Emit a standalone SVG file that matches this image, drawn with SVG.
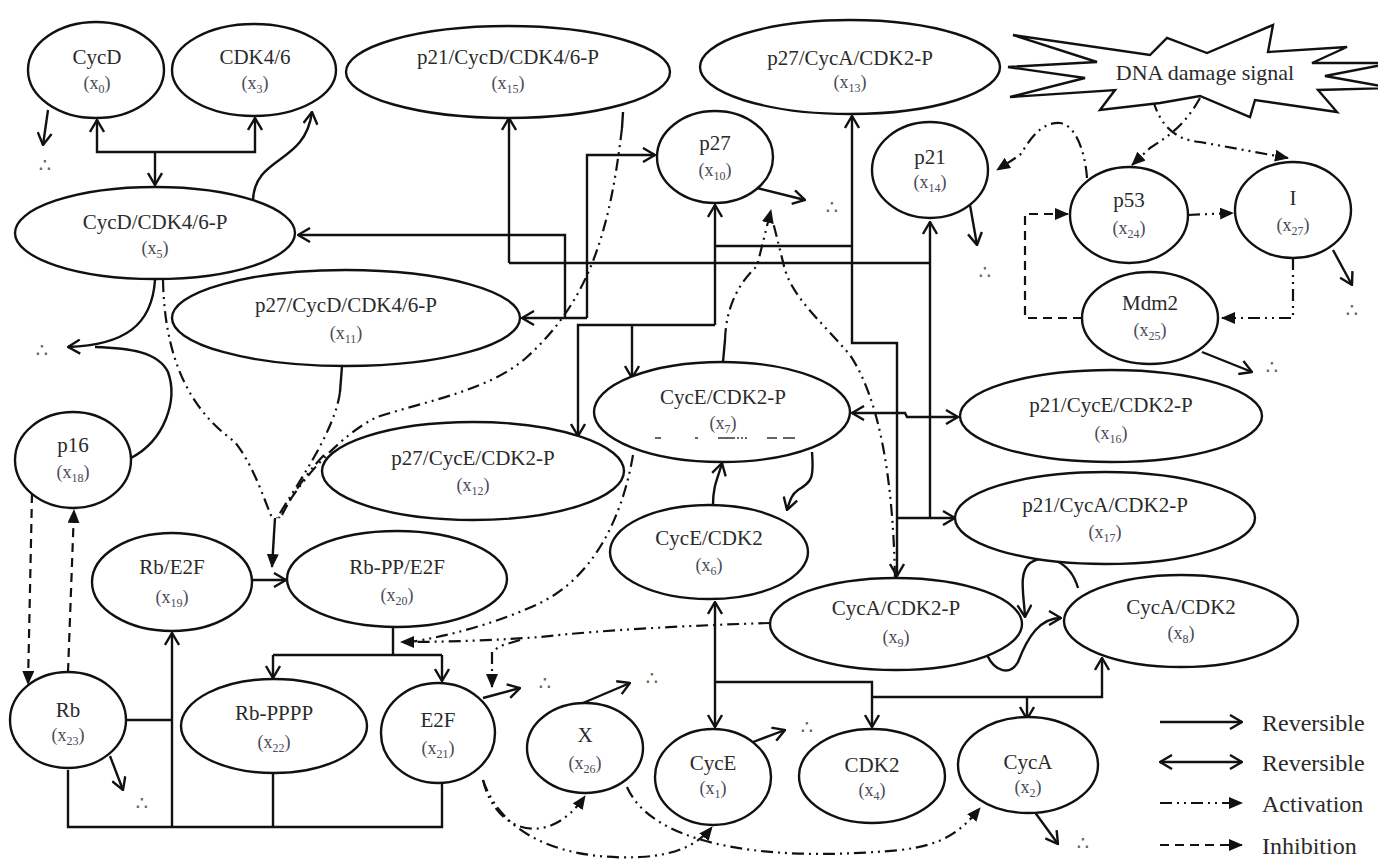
<svg xmlns="http://www.w3.org/2000/svg" width="1378" height="866" viewBox="0 0 1378 866">
<defs>
<style>
.e{fill:#fff;stroke:#111;stroke-width:2.4}
.nm{font-family:'Liberation Serif','Times New Roman',Times,'DejaVu Serif',serif;font-size:21px;fill:#2a2a2a;text-anchor:middle}
.lb{font-family:'Liberation Serif','Times New Roman',Times,'DejaVu Serif',serif;font-size:18px;fill:#4a4a58;text-anchor:middle}
.sb{font-size:12px}
.s{fill:none;stroke:#111;stroke-width:2.4}
.ad{fill:none;stroke:#111;stroke-width:2.2;stroke-dasharray:12 5 2 5 2 5}
.ih{fill:none;stroke:#111;stroke-width:2.2;stroke-dasharray:9 6}
.dg{font-family:'DejaVu Sans',sans-serif;font-size:20px;fill:#665;text-anchor:middle}
.lg{font-family:'Liberation Serif','Times New Roman',Times,'DejaVu Serif',serif;font-size:24px;fill:#2a2a2a}
</style>
<marker id="o" viewBox="0 0 14 16" refX="13" refY="8" markerWidth="14" markerHeight="16" markerUnits="userSpaceOnUse" orient="auto-start-reverse"><path d="M1,1 L13,8 L1,15" fill="none" stroke="#111" stroke-width="2.4" stroke-dasharray="none"/></marker>
<marker id="t" viewBox="0 0 14 12" refX="13" refY="6" markerWidth="14" markerHeight="12" markerUnits="userSpaceOnUse" orient="auto"><path d="M0,0 L14,6 L0,12 z" fill="#111" stroke="none"/></marker>
</defs>
<rect width="1378" height="866" fill="#fff"/>

<g id="connectors">
<path class="s" d="M48,110 L43,145" marker-end="url(#o)"/>
<path class="s" d="M97,120 L97,152 L255,152 L255,118" marker-start="url(#o)" marker-end="url(#o)"/>
<path class="s" d="M155,152 L155,185" marker-end="url(#o)"/>
<path class="s" d="M253,200 C255,155 305,165 312,112" marker-end="url(#o)"/>
<path class="s" d="M155,280 C152,325 125,345 68,347" marker-end="url(#o)"/>
<path class="s" d="M131,458 C165,440 178,400 168,372 C158,352 130,348 95,347"/>
<path class="s" d="M587,318 L522,318" marker-end="url(#o)"/>
<path class="s" d="M565,318 L565,235 L298,235" marker-end="url(#o)"/>
<path class="s" d="M587,318 L587,155 L655,155" marker-end="url(#o)"/>
<path class="s" d="M509,263 L509,118" marker-end="url(#o)"/>
<path class="s" d="M509,263 L930,263"/>
<path class="s" d="M930,518 L930,222" marker-end="url(#o)"/>
<path class="s" d="M852,413 L905,413 L907,417 L958,417" marker-start="url(#o)" marker-end="url(#o)"/>
<path class="s" d="M897,518 L955,518" marker-end="url(#o)"/>
<path class="s" d="M715,325 L715,205" marker-end="url(#o)"/>
<path class="s" d="M715,246 L852,246"/>
<path class="s" d="M852,116 L852,343 L897,343 L897,576" marker-start="url(#o)" marker-end="url(#o)"/>
<path class="s" d="M715,325 L578,325 L578,436" marker-end="url(#o)"/>
<path class="s" d="M632,325 L632,378" marker-end="url(#o)"/>
<path class="s" d="M713,505 C713,485 718,478 722,463" marker-end="url(#o)"/>
<path class="s" d="M812,452 C814,478 812,482 798,490 C792,494 790,500 787,510" marker-end="url(#o)"/>
<path class="s" d="M715,602 L715,727" marker-start="url(#o)" marker-end="url(#o)"/>
<path class="s" d="M715,682 L872,682 L872,727" marker-end="url(#o)"/>
<path class="s" d="M872,697 L1102,697 L1102,658" marker-end="url(#o)"/>
<path class="s" d="M1027,697 L1027,719" marker-end="url(#o)"/>
<path class="s" d="M1078,588 C1070,560 1045,553 1030,563 C1018,573 1024,595 1025,617" marker-end="url(#o)"/>
<path class="s" d="M987,655 C995,672 1010,676 1018,662 C1028,636 1040,618 1061,618" marker-end="url(#o)"/>
<path class="s" d="M252,580 L286,580" marker-end="url(#o)"/>
<path class="s" d="M393,627 L393,655"/>
<path class="s" d="M273,655 L442,655"/>
<path class="s" d="M273,655 L273,678" marker-end="url(#o)"/>
<path class="s" d="M442,655 L442,681" marker-end="url(#o)"/>
<path class="s" d="M68,770 L68,827 L442,827 L442,783"/>
<path class="s" d="M172,827 L172,633" marker-end="url(#o)"/>
<path class="s" d="M127,720 L172,720"/>
<path class="s" d="M273,773 L273,827"/>
<path class="s" d="M110,756 L123,790" marker-end="url(#o)"/>
<path class="s" d="M483,698 L520,688" marker-end="url(#o)"/>
<path class="s" d="M583,703 L630,683" marker-end="url(#o)"/>
<path class="s" d="M753,742 L785,730" marker-end="url(#o)"/>
<path class="s" d="M1034,811 L1058,844" marker-end="url(#o)"/>
<path class="s" d="M757,188 L805,200" marker-end="url(#o)"/>
<path class="s" d="M970,205 L977,245" marker-end="url(#o)"/>
<path class="s" d="M1333,250 L1352,285" marker-end="url(#o)"/>
<path class="s" d="M1202,352 L1252,372" marker-end="url(#o)"/>
<path class="ad" d="M163,280 C165,380 205,420 235,442 C255,468 264,500 273,520"/>
<path class="s" d="M342,366 L340,392"/>
<path class="ad" d="M340,392 C335,430 300,480 277,518"/>
<path class="s" d="M623,112 L622,128"/>
<path class="ad" d="M622,128 C610,230 590,300 527,357 C490,390 430,400 377,417 C340,435 300,480 279,518"/>
<path class="ad" d="M324,455 C305,475 292,495 282,515"/>
<path class="s" d="M275,518 L272,567" marker-end="url(#t)"/>
<path class="ad" d="M770,623 C700,625 600,630 540,637 C500,640 450,642 401,642" marker-end="url(#t)"/>
<path class="ad" d="M633,455 C622,520 592,578 540,603 C500,622 450,636 410,642"/>
<path class="ad" d="M520,640 L500,646 L492,652 L492,687" marker-end="url(#t)"/>
<path class="s" d="M723,362 L725,340"/>
<path class="ad" d="M725,340 C726,305 740,282 757,266 L771,210" marker-end="url(#t)"/>
<path class="ad" d="M895,578 C893,480 880,400 850,355 C820,320 795,300 785,270 L773,222"/>
<path class="ad" d="M483,780 C495,832 548,850 585,796" marker-end="url(#t)"/>
<path class="ad" d="M483,780 C505,845 580,860 640,857 C680,855 700,842 712,827" marker-end="url(#t)"/>
<path class="ad" d="M627,787 C650,840 750,864 900,850 C945,845 962,830 980,808" marker-end="url(#t)"/>
<path class="ad" d="M1087,178 C1085,150 1075,125 1060,123 C1040,122 1030,140 1020,155 L997,170" marker-end="url(#t)"/>
<path class="ad" d="M1200,98 C1185,125 1170,135 1150,148 L1132,165" marker-end="url(#t)"/>
<path class="ad" d="M1153,100 C1160,125 1175,140 1200,142 L1288,158" marker-end="url(#t)"/>
<path class="ad" d="M1188,215 L1233,213" marker-end="url(#t)"/>
<path class="ad" d="M1293,258 L1293,318 L1222,318" marker-end="url(#t)"/>
<path class="ih" d="M1082,318 L1025,318 L1025,214 L1068,214" marker-end="url(#t)"/>
<path class="ih" d="M32,494 L28,684" marker-end="url(#t)"/>
<path class="ih" d="M68,672 L74,510" marker-end="url(#t)"/>
</g>

<g id="sinks">
<text class="dg" x="45" y="172">∴</text>
<text class="dg" x="42" y="357">∴</text>
<text class="dg" x="832" y="214">∴</text>
<text class="dg" x="985" y="279">∴</text>
<text class="dg" x="1352" y="317">∴</text>
<text class="dg" x="1272" y="374">∴</text>
<text class="dg" x="142" y="810">∴</text>
<text class="dg" x="545" y="690">∴</text>
<text class="dg" x="652" y="685">∴</text>
<text class="dg" x="807" y="734">∴</text>
<text class="dg" x="1083" y="850">∴</text>
</g>

<g id="dna">
<polygon class="e" points="1013,35 1150,55 1167,38 1207,53 1273,25 1268,52 1347,47 1312,63 1392,63 1325,76 1392,88 1318,90 1337,112 1255,100 1250,117 1200,96 1160,103 1100,110 1115,90 1010,97 1085,78 1008,67 1097,62"/>
<text class="nm" x="1205" y="80" style="font-size:22px">DNA damage signal</text>
</g>

<g id="n0"><ellipse class="e" cx="96" cy="70" rx="68" ry="48"/><text class="nm" x="97" y="64">CycD</text><text class="lb" x="97" y="89">(x<tspan class="sb" dy="4">0</tspan><tspan dy="-4">)</tspan></text></g>
<g id="n3"><ellipse class="e" cx="254" cy="70" rx="82" ry="46"/><text class="nm" x="255" y="64">CDK4/6</text><text class="lb" x="255" y="89">(x<tspan class="sb" dy="4">3</tspan><tspan dy="-4">)</tspan></text></g>
<g id="n15"><ellipse class="e" cx="508" cy="72" rx="162" ry="46"/><text class="nm" x="508" y="64">p21/CycD/CDK4/6-P</text><text class="lb" x="508" y="89">(x<tspan class="sb" dy="4">15</tspan><tspan dy="-4">)</tspan></text></g>
<g id="n13"><ellipse class="e" cx="850" cy="67" rx="150" ry="47"/><text class="nm" x="850" y="65">p27/CycA/CDK2-P</text><text class="lb" x="850" y="88">(x<tspan class="sb" dy="4">13</tspan><tspan dy="-4">)</tspan></text></g>
<g id="n5"><ellipse class="e" cx="155" cy="233" rx="140" ry="46"/><text class="nm" x="155" y="229">CycD/CDK4/6-P</text><text class="lb" x="155" y="254">(x<tspan class="sb" dy="4">5</tspan><tspan dy="-4">)</tspan></text></g>
<g id="n10"><ellipse class="e" cx="715" cy="157" rx="58" ry="46"/><text class="nm" x="715" y="150">p27</text><text class="lb" x="715" y="176">(x<tspan class="sb" dy="4">10</tspan><tspan dy="-4">)</tspan></text></g>
<g id="n14"><ellipse class="e" cx="930" cy="170" rx="58" ry="48"/><text class="nm" x="930" y="164">p21</text><text class="lb" x="930" y="188">(x<tspan class="sb" dy="4">14</tspan><tspan dy="-4">)</tspan></text></g>
<g id="n24"><ellipse class="e" cx="1129" cy="215" rx="59" ry="48"/><text class="nm" x="1129" y="207">p53</text><text class="lb" x="1129" y="234">(x<tspan class="sb" dy="4">24</tspan><tspan dy="-4">)</tspan></text></g>
<g id="n27"><ellipse class="e" cx="1293" cy="210" rx="58" ry="48"/><text class="nm" x="1293" y="205">I</text><text class="lb" x="1293" y="231">(x<tspan class="sb" dy="4">27</tspan><tspan dy="-4">)</tspan></text></g>
<g id="n25"><ellipse class="e" cx="1150" cy="318" rx="68" ry="46"/><text class="nm" x="1150" y="310">Mdm2</text><text class="lb" x="1150" y="336">(x<tspan class="sb" dy="4">25</tspan><tspan dy="-4">)</tspan></text></g>
<g id="n11"><ellipse class="e" cx="346" cy="318" rx="174" ry="48"/><text class="nm" x="346" y="312">p27/CycD/CDK4/6-P</text><text class="lb" x="346" y="339">(x<tspan class="sb" dy="4">11</tspan><tspan dy="-4">)</tspan></text></g>
<g id="n7"><ellipse class="e" cx="722" cy="412" rx="128" ry="50"/><text class="nm" x="723" y="404">CycE/CDK2-P</text><text class="lb" x="723" y="429">(x<tspan class="sb" dy="4">7</tspan><tspan dy="-4">)</tspan></text><path d="M655,438 L795,438" fill="none" stroke="#333" stroke-width="1.6" stroke-dasharray="6 34 3 20 17 2 2 2 2 2 2 20 10"/></g>
<g id="n12"><ellipse class="e" cx="473" cy="471" rx="151" ry="49"/><text class="nm" x="473" y="465">p27/CycE/CDK2-P</text><text class="lb" x="473" y="491">(x<tspan class="sb" dy="4">12</tspan><tspan dy="-4">)</tspan></text></g>
<g id="n16"><ellipse class="e" cx="1111" cy="416" rx="151" ry="46"/><text class="nm" x="1111" y="412">p21/CycE/CDK2-P</text><text class="lb" x="1111" y="439">(x<tspan class="sb" dy="4">16</tspan><tspan dy="-4">)</tspan></text></g>
<g id="n17"><ellipse class="e" cx="1105" cy="518" rx="150" ry="46"/><text class="nm" x="1105" y="512">p21/CycA/CDK2-P</text><text class="lb" x="1105" y="538">(x<tspan class="sb" dy="4">17</tspan><tspan dy="-4">)</tspan></text></g>
<g id="n18"><ellipse class="e" cx="73" cy="460" rx="58" ry="48"/><text class="nm" x="73" y="452">p16</text><text class="lb" x="73" y="478">(x<tspan class="sb" dy="4">18</tspan><tspan dy="-4">)</tspan></text></g>
<g id="n6"><ellipse class="e" cx="709" cy="552" rx="99" ry="47"/><text class="nm" x="709" y="545">CycE/CDK2</text><text class="lb" x="709" y="571">(x<tspan class="sb" dy="4">6</tspan><tspan dy="-4">)</tspan></text></g>
<g id="n19"><ellipse class="e" cx="172" cy="582" rx="80" ry="49"/><text class="nm" x="172" y="574">Rb/E2F</text><text class="lb" x="172" y="603">(x<tspan class="sb" dy="4">19</tspan><tspan dy="-4">)</tspan></text></g>
<g id="n20"><ellipse class="e" cx="397" cy="579" rx="110" ry="48"/><text class="nm" x="397" y="574">Rb-PP/E2F</text><text class="lb" x="397" y="601">(x<tspan class="sb" dy="4">20</tspan><tspan dy="-4">)</tspan></text></g>
<g id="n9"><ellipse class="e" cx="896" cy="624" rx="126" ry="46"/><text class="nm" x="896" y="615">CycA/CDK2-P</text><text class="lb" x="896" y="643">(x<tspan class="sb" dy="4">9</tspan><tspan dy="-4">)</tspan></text></g>
<g id="n8"><ellipse class="e" cx="1181" cy="621" rx="117" ry="46"/><text class="nm" x="1181" y="614">CycA/CDK2</text><text class="lb" x="1181" y="639">(x<tspan class="sb" dy="4">8</tspan><tspan dy="-4">)</tspan></text></g>
<g id="n23"><ellipse class="e" cx="68" cy="720" rx="58" ry="48"/><text class="nm" x="68" y="717">Rb</text><text class="lb" x="68" y="741">(x<tspan class="sb" dy="4">23</tspan><tspan dy="-4">)</tspan></text></g>
<g id="n22"><ellipse class="e" cx="274" cy="726" rx="93" ry="47"/><text class="nm" x="274" y="720">Rb-PPPP</text><text class="lb" x="274" y="748">(x<tspan class="sb" dy="4">22</tspan><tspan dy="-4">)</tspan></text></g>
<g id="n21"><ellipse class="e" cx="438" cy="733" rx="57" ry="50"/><text class="nm" x="438" y="727">E2F</text><text class="lb" x="438" y="754">(x<tspan class="sb" dy="4">21</tspan><tspan dy="-4">)</tspan></text></g>
<g id="n26"><ellipse class="e" cx="585" cy="748" rx="58" ry="45"/><text class="nm" x="585" y="742">X</text><text class="lb" x="585" y="769">(x<tspan class="sb" dy="4">26</tspan><tspan dy="-4">)</tspan></text></g>
<g id="n1"><ellipse class="e" cx="713" cy="777" rx="58" ry="48"/><text class="nm" x="713" y="770">CycE</text><text class="lb" x="713" y="794">(x<tspan class="sb" dy="4">1</tspan><tspan dy="-4">)</tspan></text></g>
<g id="n4"><ellipse class="e" cx="872" cy="776" rx="73" ry="47"/><text class="nm" x="872" y="772">CDK2</text><text class="lb" x="872" y="796">(x<tspan class="sb" dy="4">4</tspan><tspan dy="-4">)</tspan></text></g>
<g id="n2"><ellipse class="e" cx="1028" cy="765" rx="70" ry="48"/><text class="nm" x="1028" y="769">CycA</text><text class="lb" x="1028" y="793">(x<tspan class="sb" dy="4">2</tspan><tspan dy="-4">)</tspan></text></g>

<g id="legend">
<path class="s" d="M1160,722 L1242,722" marker-end="url(#o)"/>
<text class="lg" x="1262" y="731">Reversible</text>
<path class="s" d="M1160,762 L1242,762" marker-start="url(#o)" marker-end="url(#o)"/>
<text class="lg" x="1262" y="771">Reversible</text>
<path class="ad" d="M1160,803 L1242,803" marker-end="url(#t)"/>
<text class="lg" x="1262" y="812">Activation</text>
<path class="ih" d="M1160,845 L1242,845" marker-end="url(#t)"/>
<text class="lg" x="1262" y="854">Inhibition</text>
</g>
</svg>
